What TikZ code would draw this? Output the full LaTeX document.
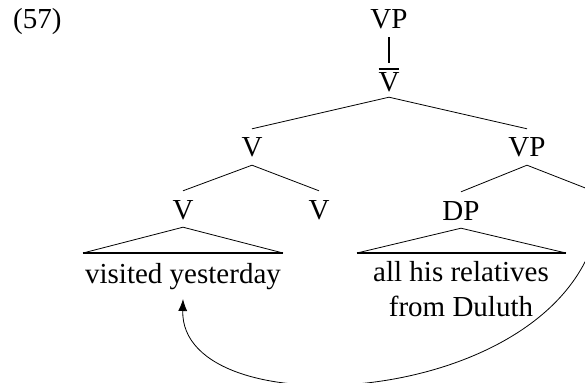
\documentclass[tikz,border=0pt]{standalone}
\usepackage{fontspec}
\setmainfont{Liberation Serif}
\usetikzlibrary{arrows.meta}
\begin{document}
\begin{tikzpicture}[x=1pt,y=-1pt,
  every node/.style={font=\fontsize{29}{35}\selectfont},
  cat/.style={inner xsep=1pt, inner ysep=8pt, text height=20pt, text depth=0pt, anchor=base},
  leaf/.style={inner sep=0pt, anchor=base},
  branch/.style={line width=0.8pt},
  base/.style={line width=1.8pt},
  stem/.style={line width=1.6pt}]
\useasboundingbox (0,0) rectangle (585,382);
\clip (0,0) rectangle (585,382);
% example number
\node[leaf, anchor=base west] (num) at (13,29) {(57)};
% tree nodes
\node[cat] (vp) at (389,29) {VP};
\node[cat, text height=24pt, inner ysep=5pt] (vbar) at (389,92) {\vbox{\hrule height 2pt\kern 3.5pt\hbox{V}}};
\node[cat] (v1) at (252,157) {V};
\node[cat] (vp2) at (527,157) {VP};
\node[cat] (v2) at (183,219) {V};
\node[cat] (v3) at (319,219) {V};
\node[cat] (dp) at (461,220) {DP};
\coordinate (trace) at (593,191);
% leaves
\node[leaf] (vy) at (183,283) {visited yesterday};
\node[leaf] (dp1) at (461,281) {all his relatives};
\node[leaf] (dp2) at (461,316) {from Duluth};
\coordinate (vyL) at (83,253);
\coordinate (vyR) at (283,253);
\coordinate (dpL) at (357,253);
\coordinate (dpR) at (566,253);
% connectors
\draw[stem] (vp.south) -- (vbar.north);
\draw[branch] (vbar.south) -- (v1.north);
\draw[branch] (vbar.south) -- (vp2.north);
\draw[branch] (v1.south) -- (v2.north);
\draw[branch] (v1.south) -- (v3.north);
\draw[branch] (vp2.south) -- (dp.north);
\draw[branch] (vp2.south) -- (trace);
% triangles
\draw[branch] (vyL) -- (v2.south) -- (vyR);
\draw[base] (vyL) -- (vyR);
\draw[branch] (dpL) -- (dp.south) -- (dpR);
\draw[base] (dpL) -- (dpR);
% movement arrow
\coordinate (mvstart) at (598,225);
\coordinate (mvend) at (183,299);
\draw[branch, -{Latex[length=12pt,width=9pt]}] (mvstart) .. controls (560,410) and (180,430) .. (mvend);
\end{tikzpicture}
\end{document}
